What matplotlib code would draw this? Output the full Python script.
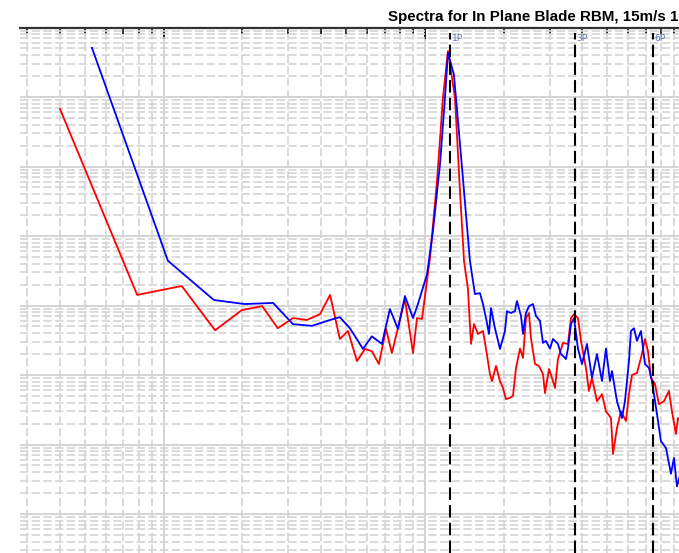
import matplotlib.pyplot as plt
import matplotlib.transforms as mtransforms
import numpy as np
from matplotlib.ticker import LogLocator, NullFormatter

# in-plane blade root bending moment spectra, two runs
red_freq = [0.0040, 0.0079, 0.0117, 0.0157, 0.0199, 0.0238, 0.0273, 0.0312, 0.0353, 0.0396,
            0.0433, 0.0472, 0.0507, 0.0549, 0.0589, 0.0626, 0.0666, 0.0709, 0.0747, 0.0838,
            0.0900, 0.0932, 0.0974, 0.1045, 0.1112, 0.1172, 0.1225, 0.1303, 0.1362, 0.1411,
            0.1461, 0.1501, 0.1541, 0.1596, 0.1668, 0.1713, 0.1774, 0.1806, 0.1871, 0.1938,
            0.1990, 0.2043, 0.2116, 0.2173, 0.2232, 0.2312, 0.2374, 0.2437, 0.2503, 0.2547,
            0.2639, 0.2733, 0.2832, 0.2882, 0.2986, 0.3066, 0.3148, 0.3232, 0.3378, 0.3530,
            0.3625, 0.3722, 0.3856, 0.3959, 0.4137, 0.4248, 0.4362, 0.4559, 0.4765, 0.4936,
            0.5158, 0.5250, 0.5439, 0.5634, 0.5888, 0.6046, 0.6208, 0.6488, 0.6780, 0.6962,
            0.7149, 0.7340, 0.7604, 0.7877, 0.8232, 0.8603, 0.8834, 0.9151, 0.9314, 0.98]
red_psd = [6.7e8, 1.42e6, 1.91e6, 4.4e5, 8.6e5, 9.8e5, 4.7e5, 6.6e5, 6.2e5, 7.5e5,
           1.42e6, 3.3e5, 4.3e5, 1.59e5, 2.37e5, 2.2e5, 1.44e5, 4.6e5, 2.07e5, 1.24e6,
           2.07e5, 6.6e5, 6.4e5, 4.8e6, 6.2e7, 9.7e8, 4.6e9, 9.7e8, 4.4e7, 4.4e6,
           1.73e6, 2.8e5, 5.4e5, 3.9e5, 4.3e5, 2.4e5, 1.03e5, 8.2e4, 1.35e5, 8.2e4,
           6.5e4, 4.5e4, 4.7e4, 5.0e4, 1.26e5, 2.4e5, 1.76e5, 6.6e5, 7.8e5, 3.4e5,
           1.44e5, 1.35e5, 1.03e5, 5.5e4, 1.22e5, 9.1e4, 6.5e4, 1.70e5, 2.9e5, 2.8e5,
           6.6e5, 7.5e5, 6.6e5, 3.1e5, 1.26e5, 5.9e4, 9.1e4, 4.2e4, 5.3e4, 3.0e4,
           2.4e4, 7.3e3, 1.73e4, 3.0e4, 2.18e4, 5.3e4, 1.0e5, 1.07e5, 2.0e5, 3.3e5,
           2.2e5, 9.1e4, 7.4e4, 3.8e4, 4.2e4, 5.9e4, 3.0e4, 1.42e4, 2.4e4, 1.85e4]

blue_freq = [0.0053, 0.01036, 0.01554, 0.0204, 0.0262, 0.0312, 0.0369, 0.0433, 0.0472, 0.0516,
             0.0579, 0.0626, 0.0684, 0.0734, 0.0788, 0.0838, 0.0900, 0.0940, 0.1018, 0.1073,
             0.1142, 0.1193, 0.1225, 0.1291, 0.1362,
             0.1487, 0.1527, 0.1554, 0.1624, 0.1668, 0.1713, 0.1759, 0.1790, 0.1854, 0.1938,
             0.2025, 0.2061, 0.2135, 0.2212, 0.2251, 0.2332, 0.2374, 0.2437, 0.2503, 0.2593,
             0.2662, 0.2758, 0.2832, 0.2907, 0.3012, 0.3093, 0.3232, 0.3319, 0.3468, 0.3530,
             0.3625, 0.3722, 0.3856, 0.3994, 0.4174, 0.4362, 0.4559, 0.4765, 0.4936, 0.5113,
             0.5204, 0.5439, 0.5684, 0.5836, 0.6046, 0.6153, 0.6318, 0.6488, 0.6721, 0.6962,
             0.7212, 0.7406, 0.7739, 0.8017, 0.8379, 0.8757, 0.8992, 0.9232, 0.9734]
blue_psd = [5.1e9, 4.4e6, 1.20e6, 1.05e6, 1.09e6, 5.4e5, 5.1e5, 6.2e5, 6.8e5, 4.7e5,
            2.37e5, 3.6e5, 2.8e5, 8.9e5, 4.6e5, 1.37e6, 6.6e5, 1.05e6, 2.8e6, 1.18e7,
            1.09e8, 9.7e8, 4.3e9, 2.1e9, 2.1e8,
            4.4e6, 2.25e6, 1.46e6, 1.51e6, 1.05e6, 6.6e5, 3.9e5, 9.2e5, 4.7e5, 2.37e5,
            4.3e5, 8.3e5, 7.8e5, 8.3e5, 1.16e6, 7.1e5, 3.9e5, 7.8e5, 9.8e5, 1.05e6,
            7.1e5, 6.0e5, 2.9e5, 3.1e5, 2.4e5, 3.3e5, 2.8e5, 2.0e5, 1.70e5, 2.4e5,
            5.4e5, 6.6e5, 2.4e5, 1.44e5, 2.8e5, 9.1e4, 2.0e5, 8.2e4, 2.4e5, 8.2e4,
            1.14e5, 4.2e4, 2.4e4, 4.2e4, 1.59e5, 4.3e5, 4.7e5, 3.1e5, 4.3e5, 1.44e5,
            1.26e5, 8.2e4, 2.75e4, 1.12e4, 8.9e3, 3.8e3, 6.4e3, 2.5e3, 5.2e3]

# rotor harmonics (Hz)
harmonic_freq = [0.125, 0.375, 0.75]
harmonic_labels = ["1P", "3P", "6P"]

W, H = 679, 553
fig = plt.figure(figsize=(W / 100, H / 100), dpi=100)
top_px = 27.5
ax = fig.add_axes([20 / W, 0, (W - 20) / W, (H - top_px) / H])
ax.set_xscale("log")
ax.set_yscale("log")
ax.set_xlim(0.00281, 0.940)
ax.set_ylim(275, 1e10)

for axis in (ax.xaxis, ax.yaxis):
    axis.set_major_locator(LogLocator(base=10, numticks=30))
    axis.set_minor_locator(LogLocator(base=10, subs=np.arange(2, 10), numticks=200))
    axis.set_minor_formatter(NullFormatter())

ax.tick_params(which="both", top=True, bottom=False, left=False, right=False,
               labeltop=False, labelbottom=False, labelleft=False,
               direction="in", color="black")
ax.tick_params(which="major", length=8, width=1.2)
ax.tick_params(which="minor", length=4.5, width=1.1)

ax.grid(which="major", color="#d4d4d4", lw=1.4, ls="-")
ax.grid(which="minor", color="#d4d4d4", lw=1.2, ls=(0, (5, 2)))
ax.set_axisbelow(True)

for side in ("left", "right", "bottom"):
    ax.spines[side].set_visible(False)
ax.spines["top"].set_color("#333333")
ax.spines["top"].set_linewidth(1.6)

ax.plot(red_freq, red_psd, color="#ff0000", lw=1.3, zorder=3)
ax.plot(blue_freq, blue_psd, color="#0000ff", lw=1.3, zorder=4)

trans = mtransforms.blended_transform_factory(ax.transData, ax.transAxes)
for f, lab in zip(harmonic_freq, harmonic_labels):
    ax.axvline(f, ymax=0.99, color="black", lw=1.5, dashes=(6, 2.5), zorder=5)
    ax.text(f * 1.012, 0.980, lab, transform=trans, fontsize=6.5,
            color="#5b74b8", va="center", ha="left", zorder=6)

fig.text(678 / W, 1 - 21 / H, "Spectra for In Plane Blade RBM, 15m/s 1",
         ha="right", va="baseline", fontsize=10.9, fontweight="bold",
         family="Liberation Sans")

fig.savefig("out.png", dpi=100)
